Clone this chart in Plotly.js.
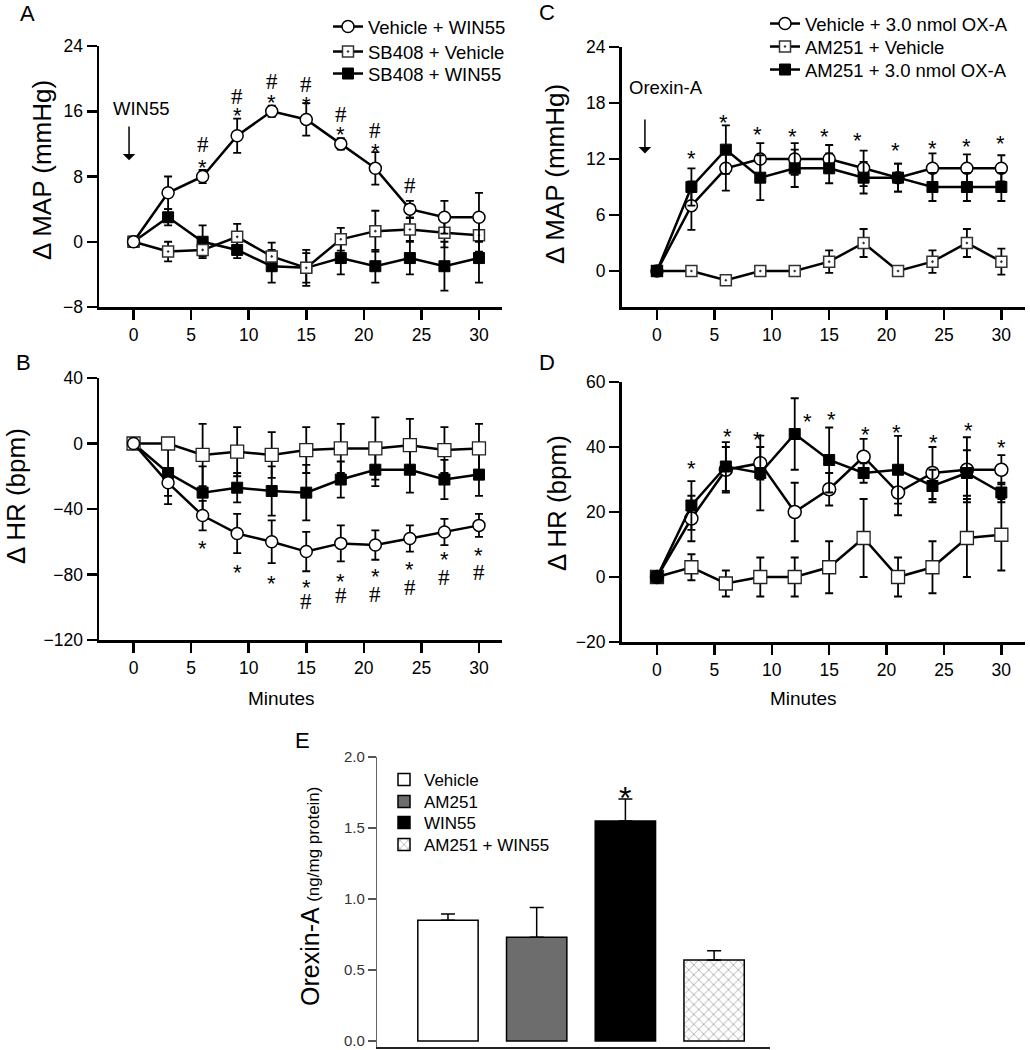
<!DOCTYPE html>
<html>
<head>
<meta charset="utf-8">
<script src="https://cdn.plot.ly/plotly-3.0.1.min.js"></script>
<style>html,body{margin:0;padding:0;background:#fff}#chart{width:1030px;height:1050px}</style>
</head>
<body>
<div id="chart"></div>
<script>
// ---------- data ----------
const minutes = [0, 3, 6, 9, 12, 15, 18, 21, 24, 27, 30];
const minuteTicks = [0, 5, 10, 15, 20, 25, 30];

// Panel A: delta MAP (mmHg)
const mapVehWin55 = [0, 6, 8, 13, 16, 15, 12, 9, 4, 3, 3];
const mapVehWin55Err = [0, 2, 0.8, 2.1, 0.7, 2, 0.7, 2, 1, 2, 3];
const mapSb408Veh = [0, -1.2, -1, 0.6, -1.8, -3.2, 0.3, 1.3, 1.5, 1.1, 0.8];
const mapSb408VehErr = [0, 1.2, 0.8, 1.6, 1.7, 2.2, 1.4, 2.5, 1.4, 1.8, 2];
const mapSb408Win55 = [0, 3, 0, -1, -3, -3.2, -2, -3, -2, -3, -2];
const mapSb408Win55Err = [0, 1, 2, 1, 2, 1.8, 2, 2, 2, 3, 3];
const aTicks = [-8, 0, 8, 16, 24];
const aStarX = [6, 9, 12, 15, 18, 21];
const aStarY = [9.8, 16.2, 17.8, 17.6, 13.9, 11.8];
const aHashX = [6, 9, 12, 15, 18, 21, 24];
const aHashY = [11.9, 17.8, 19.6, 19.3, 15.6, 13.7, 6.9];

// Panel B: delta HR (bpm)
const hrVehWin55 = [0, -24, -44, -55, -60, -66, -61, -62, -58, -54, -50];
const hrVehWin55Err = [0, 8, 9, 12, 13, 12, 11, 9, 8, 8, 7];
const hrSb408Veh = [0, 0, -7, -5, -7, -4, -3, -3, -1, -4, -3];
const hrSb408VehErr = [0, 3, 19, 15, 14, 14, 15, 19, 16, 14, 15];
const hrSb408Win55 = [0, -18, -30, -27, -29, -30, -22, -16, -16, -22, -19];
const hrSb408Win55Err = [0, 19, 16, 9, 15, 17, 11, 10, 14, 12, 13];
const bTicks = [-120, -80, -40, 0, 40];
const bStarX = [6, 9, 12, 15, 18, 21, 24, 27, 30];
const bStarY = [-60.6, -75.3, -82, -84.5, -80.8, -77.8, -73.5, -67.4, -64.9];
const bHashX = [15, 18, 21, 24, 27, 30];
const bHashY = [-96.7, -93, -92.5, -88, -82, -79];

// Panel C: delta MAP (mmHg)
const mapVehOxa = [0, 7, 11, 12, 12, 12, 11, 10, 11, 11, 11];
const mapVehOxaErr = [0, 2.6, 2.4, 1.7, 1.7, 1.5, 1.9, 1.5, 1.6, 1.5, 1.4];
const mapAmVeh = [0, 0, -1, 0, 0, 1, 3, 0, 1, 3, 1];
const mapAmVehErr = [0, 0.3, 0.5, 0.3, 0.3, 1.2, 1.5, 0.3, 1.2, 1.5, 1.4];
const mapAmOxa = [0, 9, 13, 10, 11, 11, 10, 10, 9, 9, 9];
const mapAmOxaErr = [0, 2, 2.6, 2.4, 2, 1.6, 1.7, 1.5, 1.5, 1.5, 1.5];
const cTicks = [0, 6, 12, 18, 24];
const cStarX = [3, 5.8, 8.8, 11.8, 14.6, 17.5, 20.8, 24, 27, 29.9];
const cStarY = [12.7, 16.6, 15.3, 15.1, 15.0, 14.6, 13.5, 13.8, 14.0, 14.3];

// Panel D: delta HR (bpm)
const hrVehOxa = [0, 18, 33, 35, 20, 27, 37, 26, 32, 33, 33];
const hrVehOxaErr = [0, 7, 7, 5, 9, 5, 5.5, 7, 8, 10, 4.5];
const hrAmVeh = [0, 3, -2, 0, 0, 3, 12, 0, 3, 12, 13];
const hrAmVehErr = [0, 4, 4, 6, 6, 8, 12, 6, 8, 12, 11];
const hrAmOxa = [0, 22, 34, 32, 44, 36, 32, 33, 28, 32, 26];
const hrAmOxaErr = [0, 7.5, 7.5, 11.5, 11, 10, 3, 10.4, 5, 7, 3];
const dTicks = [-20, 0, 20, 40, 60];
const dStarX = [3, 6.1, 8.8, 13.1, 15.2, 18.2, 20.9, 24.1, 27.1, 30];
const dStarY = [35.1, 45.2, 44.3, 49.8, 50.4, 45.8, 46.2, 43.1, 46.8, 41.8];

// Panel E: Orexin-A (ng/mg protein)
const eCategories = ['Vehicle', 'AM251', 'WIN55', 'AM251 + WIN55'];
const eValues = [0.85, 0.73, 1.55, 0.57];
const eErrors = [0.045, 0.21, 0.155, 0.065];
const eTicks = [0.0, 0.5, 1.0, 1.5, 2.0];
const eStarY = 1.77;

// ---------- helpers ----------
const W = 1030, H = 1050;
const px = v => v / W;
const py = v => 1 - v / H;
const FONT = 'Liberation Sans, Arial, sans-serif';

function series(x, y, err, xa, ya, marker, name, legend, show) {
  return {
    type: 'scatter', mode: 'lines+markers', x: x, y: y, name: name,
    xaxis: xa, yaxis: ya, legend: legend, showlegend: show,
    line: {color: 'black', width: 2.5},
    marker: marker,
    error_y: {type: 'data', array: err, visible: true, color: 'black', thickness: 1.8, width: 4}
  };
}
const mCircle = {symbol: 'circle', size: 12, color: 'white', line: {color: 'black', width: 1.5}};
const mFilled = {symbol: 'square', size: 11, color: 'black', line: {color: 'black', width: 1}};
const mOpenDot = {symbol: 'square-dot', size: 11, color: 'white', line: {color: '#333', width: 1.5}};
const mOpen = {symbol: 'square', size: 13, color: 'white', line: {color: '#222', width: 1.3}};

const traces = [
  // A
  series(minutes, mapSb408Win55, mapSb408Win55Err, 'x', 'y', mFilled, 'SB408 + WIN55', 'legend5', true),
  series(minutes, mapSb408Veh, mapSb408VehErr, 'x', 'y', mOpenDot, 'SB408 + Vehicle', 'legend4', true),
  series(minutes, mapVehWin55, mapVehWin55Err, 'x', 'y', mCircle, 'Vehicle + WIN55', 'legend', true),
  // B
  series(minutes, hrSb408Win55, hrSb408Win55Err, 'x2', 'y2', mFilled, 'SB408 + WIN55', 'legend', false),
  series(minutes, hrSb408Veh, hrSb408VehErr, 'x2', 'y2', mOpen, 'SB408 + Vehicle', 'legend', false),
  series(minutes, hrVehWin55, hrVehWin55Err, 'x2', 'y2', mCircle, 'Vehicle + WIN55', 'legend', false),
  // C
  series(minutes, mapAmVeh, mapAmVehErr, 'x3', 'y3', mOpenDot, 'AM251 + Vehicle', 'legend6', true),
  series(minutes, mapVehOxa, mapVehOxaErr, 'x3', 'y3', mCircle, 'Vehicle + 3.0 nmol OX-A', 'legend2', true),
  series(minutes, mapAmOxa, mapAmOxaErr, 'x3', 'y3', mFilled, 'AM251 + 3.0 nmol OX-A', 'legend7', true),
  // D
  series(minutes, hrAmVeh, hrAmVehErr, 'x4', 'y4', mOpen, 'AM251 + Vehicle', 'legend2', false),
  series(minutes, hrVehOxa, hrVehOxaErr, 'x4', 'y4', Object.assign({}, mCircle, {size: 13}), 'Vehicle + 3.0 nmol OX-A', 'legend2', false),
  series(minutes, hrAmOxa, hrAmOxaErr, 'x4', 'y4', mFilled, 'AM251 + 3.0 nmol OX-A', 'legend2', false)
];

// E bars
const eFills = [
  {color: 'white'},
  {color: '#6d6d6d'},
  {color: 'black'},
  {color: 'white', pattern: {shape: 'x', size: 7, solidity: 0.12, fgcolor: '#555', bgcolor: 'white'}}
];
const eLegends = ['legend3', 'legend8', 'legend9', 'legend10'];
eCategories.forEach((c, i) => {
  traces.push({
    type: 'bar', x: [c], y: [eValues[i]], name: c, xaxis: 'x5', yaxis: 'y5',
    legend: eLegends[i], width: 0.68,
    marker: Object.assign({line: {color: 'black', width: 1.5}}, eFills[i]),
    error_y: {type: 'data', array: [eErrors[i]], arrayminus: [0], symmetric: false,
              visible: true, color: 'black', thickness: 1.5, width: 7}
  });
});

// ---------- axes ----------
function xAxis(domain, range, anchor) {
  return {domain: domain, range: range, anchor: anchor, showline: true, linewidth: 2.5, linecolor: 'black',
    ticks: 'outside', ticklen: 10, tickwidth: 2.5, tickcolor: 'black', tickvals: minuteTicks,
    showgrid: false, zeroline: false, tickfont: {size: 17.5, color: 'black'}, fixedrange: true};
}
function yAxis(domain, range, anchor, ticks) {
  return {domain: domain, range: range, anchor: anchor, showline: true, linewidth: 2.5, linecolor: 'black',
    ticks: 'outside', ticklen: 10, tickwidth: 2.5, tickcolor: 'black', tickvals: ticks,
    showgrid: false, zeroline: false, tickfont: {size: 17.5, color: 'black'}, fixedrange: true};
}
const xLeft = [px(99), px(502)];
const xRight = [px(621.5), px(1025)];

const annotations = [];
function txt(x, y, text, size, opts) {
  annotations.push(Object.assign({x: x, y: y, xref: 'paper', yref: 'paper', text: text, showarrow: false,
    xanchor: 'center', yanchor: 'middle', font: {family: FONT, size: size, color: 'black'}}, opts || {}));
}
// panel letters
txt(px(27), py(13), 'A', 22);
txt(px(23), py(362), 'B', 22);
txt(px(547), py(12), 'C', 22);
txt(px(547), py(363), 'D', 22);
txt(px(302), py(740), 'E', 22);
// y titles
txt(px(42), py(170), 'Δ MAP (mmHg)', 26, {textangle: -90});
txt(px(16), py(496), 'Δ HR (bpm)', 26, {textangle: -90});
txt(px(555), py(174), 'Δ MAP (mmHg)', 26, {textangle: -90});
txt(px(557), py(503), 'Δ HR (bpm)', 26, {textangle: -90});
txt(px(310), py(897), 'Orexin-A <span style="font-size:17px">(ng/mg protein)</span>', 25, {textangle: -90});
// x titles
txt(px(281), py(698), 'Minutes', 19);
txt(px(803), py(698), 'Minutes', 19);
// injection labels
txt(px(141), py(108), 'WIN55', 18.5);
txt(px(666), py(88), 'Orexin-A', 18.5);
annotations.push({xref: 'x', yref: 'y', axref: 'x', ayref: 'y', x: -0.39, y: 10.0, ax: -0.39, ay: 14.3,
  text: '', showarrow: true, arrowhead: 1, arrowsize: 1.4, arrowwidth: 1.5, arrowcolor: 'black'});
annotations.push({xref: 'x3', yref: 'y3', axref: 'x3', ayref: 'y3', x: -1.05, y: 12.6, ax: -1.05, ay: 16.4,
  text: '', showarrow: true, arrowhead: 1, arrowsize: 1.4, arrowwidth: 1.5, arrowcolor: 'black'});

function marks(xs, ys, xr, yr, sym) {
  xs.forEach((x, i) => {
    const isStar = sym === '*';
    annotations.push({x: x, y: ys[i], xref: xr, yref: yr, text: sym, showarrow: false,
      xanchor: 'center', yanchor: 'middle', yshift: isStar ? -6 : 0,
      font: {family: isStar ? FONT : 'Liberation Serif, Times New Roman, serif', size: isStar ? 22 : 23, color: 'black'}});
  });
}
marks(aStarX, aStarY, 'x', 'y', '*');
marks(aHashX, aHashY, 'x', 'y', '#');
marks(bStarX, bStarY, 'x2', 'y2', '*');
marks(bHashX, bHashY, 'x2', 'y2', '#');
marks(cStarX, cStarY, 'x3', 'y3', '*');
marks(dStarX, dStarY, 'x4', 'y4', '*');
annotations.push({x: eCategories[2], y: eStarY, xref: 'x5', yref: 'y5', text: '*', showarrow: false,
  xanchor: 'center', yanchor: 'middle', yshift: -8, font: {family: FONT, size: 32, color: 'black'}});

const legendBase = {bgcolor: 'rgba(0,0,0,0)', borderwidth: 0, xanchor: 'left', yanchor: 'top',
  font: {family: FONT, size: 18.5, color: 'black'}, tracegroupgap: 0};
const eLegendBase = Object.assign({}, legendBase, {font: {family: FONT, size: 17, color: 'black'}});
function lg(base, x, top) { return Object.assign({}, base, {x: px(x), y: py(top)}); }

const layout = {
  width: W, height: H,
  margin: {l: 0, r: 0, t: 0, b: 0},
  paper_bgcolor: 'white', plot_bgcolor: 'white',
  font: {family: FONT, size: 17, color: 'black'},
  barmode: 'overlay',
  xaxis: xAxis(xLeft, [-3, 32], 'y'),
  yaxis: yAxis([py(307), py(46)], [-8, 24], 'x', aTicks),
  xaxis2: xAxis(xLeft, [-3, 32], 'y2'),
  yaxis2: yAxis([py(640), py(378)], [-120, 40], 'x2', bTicks),
  xaxis3: xAxis(xRight, [-3.09, 32.06], 'y3'),
  yaxis3: yAxis([py(307), py(47)], [-3.86, 24], 'x3', cTicks),
  xaxis4: xAxis(xRight, [-3.09, 32.06], 'y4'),
  yaxis4: yAxis([py(642), py(382)], [-20, 60], 'x4', dTicks),
  xaxis5: {domain: [px(377), px(770)], range: [-0.8, 3.63], anchor: 'y5', type: 'category',
    categoryorder: 'array', categoryarray: eCategories, showticklabels: false, ticks: '',
    showline: true, linewidth: 1.5, linecolor: '#222', showgrid: false, zeroline: false, fixedrange: true},
  yaxis5: {domain: [py(1047), py(757)], range: [-0.042, 2.0], anchor: 'x5', tickvals: eTicks,
    ticktext: eTicks.map(v => v.toFixed(1)), ticks: 'outside', ticklen: 8, tickwidth: 1.2, tickcolor: '#555',
    showline: true, linewidth: 1.2, linecolor: '#666', showgrid: false, zeroline: false,
    tickfont: {size: 15, color: '#333'}, fixedrange: true},
  // A legend (one entry per box for exact row spacing)
  legend: lg(legendBase, 328, 8),
  legend4: lg(legendBase, 328, 33),
  legend5: lg(legendBase, 328, 55),
  // C legend
  legend2: lg(legendBase, 765, 5),
  legend6: lg(legendBase, 765, 28),
  legend7: lg(legendBase, 765, 51),
  // E legend
  legend3: lg(eLegendBase, 384, 762),
  legend8: lg(eLegendBase, 384, 784),
  legend9: lg(eLegendBase, 384, 805),
  legend10: lg(eLegendBase, 384, 827),
  annotations: annotations,
  showlegend: true
};

Plotly.newPlot('chart', traces, layout, {staticPlot: true, displayModeBar: false});
</script>
</body>
</html>
